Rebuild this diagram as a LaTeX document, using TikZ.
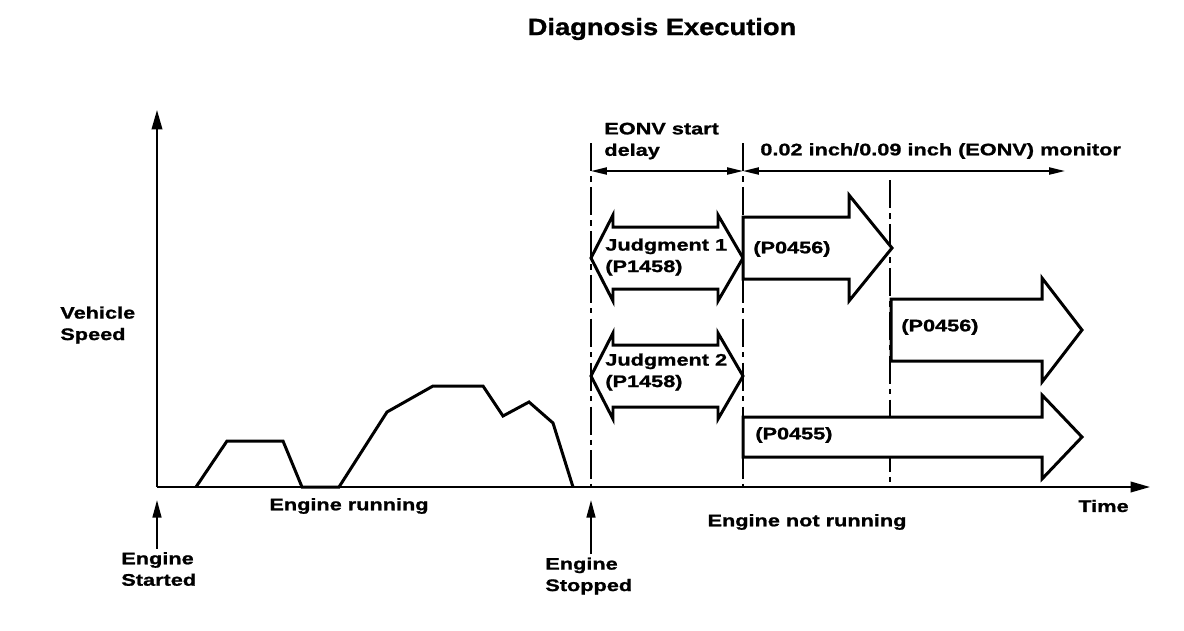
\documentclass[tikz,border=0pt]{standalone}
\usepackage{fontspec}
\setmainfont{Liberation Sans}[FakeStretch=1.3, BoldFeatures={FakeBold=1.2}]
\newfontfamily\headfont{Liberation Sans}[FakeStretch=1.16, BoldFeatures={FakeBold=1.2}]
\usetikzlibrary{arrows.meta,positioning}

\begin{document}
\begin{tikzpicture}[x=0.02cm, y=-0.02cm,
      every node/.style={font=\bfseries\fontsize{9.5}{12.2}\selectfont, align=left, inner sep=0pt},
      title/.style={font=\headfont\bfseries\fontsize{13.4}{16}\selectfont},
      lbl/.style={anchor=west},
      curve/.style={line width=1.7pt, line join=miter},
      axis/.style={line width=1.1pt, -{Triangle[length=11pt,width=6pt]}},
      marker/.style={line width=1.1pt, -{Triangle[length=10pt,width=5pt]}},
      phase/.style={line width=1.1pt, dash pattern=on 16pt off 3pt on 3pt off 3pt},
      span/.style={line width=1.1pt, {Triangle[length=9pt,width=4pt]}-{Triangle[length=9pt,width=4pt]}},
      blockarrow/.style={line width=1.7pt, fill=white, line join=miter}
    ]
      \useasboundingbox (0,0) rectangle (1184,630);

      % axes
      \coordinate (O) at (157,487);
      \coordinate (ytop) at (157,110);
      \coordinate (xend) at (1150,487);
      \draw[axis] (O) -- (ytop);
      \draw[axis] (O) -- (xend);

      % vehicle speed while engine runs
      \draw[curve] (196,487) -- (227,441) -- (283,441) -- (302,487) -- (339,487)
        -- (387,412) -- (433,386) -- (483,386) -- (503,416) -- (529,402)
        -- (553,423) -- (573,487);

      % phase borders
      \coordinate (p1) at (591,143);
      \coordinate (p2) at (743,143);
      \coordinate (p3) at (890,180);
      \draw[phase] (p1) -- (p1 |- O);
      \draw[phase] (p2) -- (p2 |- O);
      \draw[phase] (p3) -- (p3 |- O);

      % spans on top
      \coordinate (s1) at (591,171);
      \coordinate (s2) at (743,171);
      \coordinate (s3) at (1065,171);
      \draw[span] (s1) -- (s2);
      \draw[span] (s2) -- (s3);
      \node[lbl] (delay) at (604,141) {EONV start\\delay};
      \node[lbl] (monitor) at (760,151) {0.02 inch/0.09 inch (EONV) monitor};

      % judgments
      \draw[blockarrow] (591,258) -- (613,215) -- (613,227) -- (718,227) -- (718,215)
        -- (743,258) -- (718,301) -- (718,289) -- (613,289) -- (613,301) -- cycle;
      \node[lbl] (judge1) at (605,257) {Judgment 1\\(P1458)};
      \draw[blockarrow] (591,376) -- (613,333) -- (613,345) -- (718,345) -- (718,333)
        -- (743,376) -- (718,419) -- (718,407) -- (613,407) -- (613,419) -- cycle;
      \node[lbl] (judge2) at (605,372) {Judgment 2\\(P1458)};

      % monitors
      \draw[blockarrow] (743,217) -- (849,217) -- (849,195) -- (892,248)
        -- (849,301) -- (849,279) -- (743,279) -- cycle;
      \node[lbl] (mon1) at (753,249) {(P0456)};
      \draw[blockarrow] (891,299) -- (1042,299) -- (1042,278) -- (1082,330)
        -- (1042,382) -- (1042,361) -- (891,361) -- cycle;
      \node[lbl] (mon2) at (901,327) {(P0456)};
      \draw[blockarrow] (743,417) -- (1042,417) -- (1042,395) -- (1082,437)
        -- (1042,479) -- (1042,457) -- (743,457) -- cycle;
      \node[lbl] (mon3) at (755,435) {(P0455)};

      % texts
      \node[title] (head) at (662,29) {Diagnosis Execution};
      \node[lbl] (speed) at (60,325) {Vehicle\\Speed};
      \node (running) at (349,506) {Engine running};
      \node (notrunning) at (807,522) {Engine not running};
      \node[lbl] (time) at (1078,506) {Time};
      \node[lbl] (started) at (121,569) {Engine\\Started};
      \node[lbl] (stopped) at (545,576) {Engine\\Stopped};

      % events
      \coordinate (e1) at (157,500);
      \coordinate (e2) at (591,500);
      \draw[marker] (e1 |- started.north) ++(0,-3) -- (e1);
      \draw[marker] (e2 |- stopped.north) ++(0,-3) -- (e2);
    \end{tikzpicture}
\end{document}
